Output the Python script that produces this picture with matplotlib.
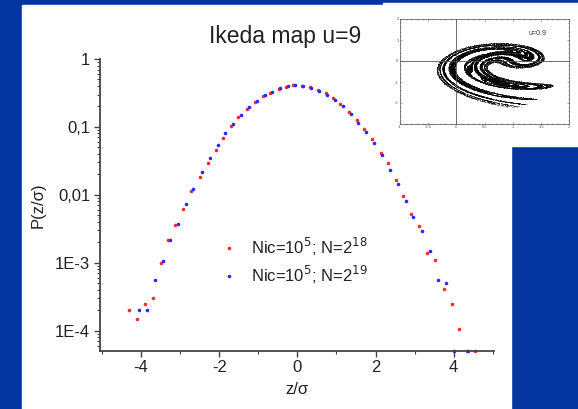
import numpy as np
import matplotlib
matplotlib.use("Agg")
import matplotlib.pyplot as plt
from matplotlib.patches import Rectangle
from matplotlib.ticker import FixedLocator, LogLocator, NullFormatter

plt.rcParams['font.family'] = ['Liberation Sans', 'DejaVu Sans']
plt.rcParams['axes.unicode_minus'] = False

# distribution P(z/sigma), Nic=10^5, N=2^18 (red)
z_red = [-4.30, -4.10, -3.90, -3.70, -3.49, -3.30, -3.12, -2.92, -2.71, -2.50,
         -2.29, -2.09, -1.91, -1.70, -1.51, -1.30, -1.09, -0.89, -0.69, -0.48,
         -0.29, -0.10, 0.11, 0.31, 0.52, 0.72, 0.91, 1.10, 1.31, 1.52,
         1.71, 1.92, 2.13, 2.33, 2.52, 2.71, 2.91, 3.12, 3.32, 3.53,
         3.75, 3.95, 4.14, 4.33, 4.55]
p_red = [2.0e-4, 1.5e-4, 2.5e-4, 3.05e-4, 9.8e-4, 2.16e-3, 3.55e-3, 6.24e-3, 0.0115, 0.0185,
         0.0297, 0.0457, 0.069, 0.102, 0.138, 0.182, 0.235, 0.285, 0.319, 0.358,
         0.391, 0.41, 0.40, 0.387, 0.35, 0.313, 0.264, 0.215, 0.168, 0.126,
         0.093, 0.066, 0.041, 0.0297, 0.0167, 0.0095, 0.0053, 0.0035, 0.0014, 0.0011,
         4.05e-4, 2.5e-4, 1.05e-4, 5e-5, 5e-5]

# Nic=10^5, N=2^19 (blue)
z_blue = [-4.05, -3.86, -3.64, -3.44, -3.26, -3.06, -2.86, -2.66, -2.45, -2.24,
          -2.04, -1.85, -1.66, -1.45, -1.24, -1.04, -0.84, -0.65, -0.44, -0.25,
          -0.05, 0.15, 0.35, 0.56, 0.76, 0.96, 1.16, 1.36, 1.56, 1.76,
          1.97, 2.16, 2.37, 2.57, 2.77, 2.96, 3.18, 3.38, 3.59, 3.80,
          4.01, 4.37]
p_blue = [2.0e-4, 2.0e-4, 5.6e-4, 1.07e-3, 2.16e-3, 3.69e-3, 7.33e-3, 0.0120, 0.0219, 0.0345,
          0.054, 0.082, 0.110, 0.150, 0.195, 0.243, 0.295, 0.33, 0.37, 0.40,
          0.41, 0.40, 0.374, 0.334, 0.298, 0.25, 0.203, 0.157, 0.113, 0.084,
          0.057, 0.039, 0.0234, 0.0145, 0.0082, 0.0047, 0.00293, 0.00148, 5.6e-4, 5.1e-4,
          5e-5, 5e-5]

labels = [r"Nic=10$^{5}$; N=2$^{18}$", r"Nic=10$^{5}$; N=2$^{19}$"]
y_ticks = [1e-4, 1e-3, 1e-2, 1e-1, 1]
y_ticklabels = ["1E-4", "1E-3", "0,01", "0,1", "1"]
x_ticks = [-4, -2, 0, 2, 4]

# inset: Ikeda map, u = 0.9
u = 0.9
n_iter = 30000

W, H = 578, 409
fig = plt.figure(figsize=(W / 100, H / 100), dpi=100)
fig.patch.set_facecolor('#0535a0')
fig.patches.append(Rectangle((22 / W, 0), (510.5 - 22) / W, (409 - 5) / H,
                             transform=fig.transFigure, color='white', zorder=-5))
fig.patches.append(Rectangle((383 / W, 1 - 145.7 / H), 195 / W, 143 / H,
                             transform=fig.transFigure, color='white', zorder=-5))

ax = fig.add_axes([100 / W, 1 - 350.7 / H, 394 / W, (350.7 - 59) / H])
ax.set_facecolor('none')
ax.set_yscale('log')
ax.plot(z_red, p_red, 'o', color='#ff2a2a', ms=2.6, mec='none', clip_on=False, label=labels[0])
ax.plot(z_blue, p_blue, 'o', color='#2a2aff', ms=2.6, mec='none', clip_on=False, label=labels[1])
ax.set_xlim(-5.05, 5.03)
ax.set_ylim(5.06e-5, 1)

ax.set_yticks(y_ticks)
ax.set_yticklabels(y_ticklabels)
ax.yaxis.set_minor_locator(LogLocator(base=10, subs=np.arange(2, 10)))
ax.yaxis.set_minor_formatter(NullFormatter())
ax.set_xticks(x_ticks)
ax.xaxis.set_minor_locator(FixedLocator([-5, -3, -1, 1, 3, 5]))

for s in ['top', 'right']:
    ax.spines[s].set_visible(False)
for s in ['left', 'bottom']:
    ax.spines[s].set_color('#444444')
    ax.spines[s].set_linewidth(1.3)
ax.tick_params(which='major', direction='out', length=4, width=1, color='#444444',
               labelsize=12, labelcolor='#222222', pad=3)
ax.tick_params(which='minor', direction='out', length=2, width=0.8, color='#444444')

ax.set_xlabel("z/σ", fontsize=12, color='#222222', labelpad=5)
ax.set_ylabel("P(z/σ)", fontsize=12, color='#222222', labelpad=7)
fig.text(285 / W, 1 - 37 / H, "Ikeda map u=9", fontsize=16.5, color='#222222',
         ha='center', va='center')

ax.legend(loc='upper left', bbox_to_anchor=(0.265, 0.445), frameon=False,
          fontsize=12, handletextpad=0.7, labelspacing=0.35, markerscale=1.0,
          handlelength=1.2, labelcolor='#222222')

# inset with the attractor
ins = fig.add_axes([400 / W, 1 - 124 / H, 169.3 / W, 105 / H])
x, y = 0.1, 0.1
xs = np.empty(n_iter)
ys = np.empty(n_iter)
for i in range(n_iter + 100):
    t = 0.4 - 6.0 / (1.0 + x * x + y * y)
    x, y = 1.0 + u * (x * np.cos(t) - y * np.sin(t)), u * (x * np.sin(t) + y * np.cos(t))
    if i >= 100:
        xs[i - 100] = x
        ys[i - 100] = y
ins.plot(xs, ys, 'o', color='black', ms=0.55, mec='none', alpha=0.65)
ins.axhline(0, color='#555555', lw=0.6)
ins.axvline(0, color='#555555', lw=0.6)
ins.set_xlim(-1, 2)
ins.set_ylim(-3, 2)
ins.set_xticks([-1, -0.5, 0, 0.5, 1, 1.5, 2])
ins.set_xticklabels(["-1", "-0.5", "0", "0.5", "1", "1.5", "2"])
ins.set_yticks([-2, -1, 0, 1, 2])
ins.minorticks_on()
ins.tick_params(which='both', direction='in', top=True, right=True, labelsize=3,
                length=1.5, width=0.4, color='#666666', labelcolor='#555555', pad=1)
ins.tick_params(which='minor', length=0.8)
for s in ins.spines.values():
    s.set_linewidth(0.6)
    s.set_color('#666666')
ins.text(0.81, 0.86, "u=0.9", transform=ins.transAxes, fontsize=5, color='#333333',
         ha='center', va='center')

fig.savefig("out.png", dpi=100, facecolor=fig.get_facecolor())
